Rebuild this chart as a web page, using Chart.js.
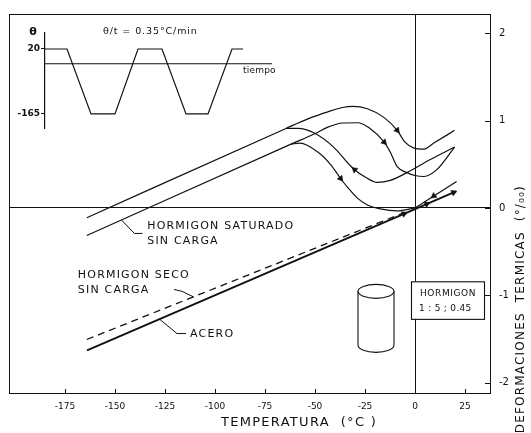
<!DOCTYPE html>
<html><head><meta charset="utf-8">
<script src="https://cdn.jsdelivr.net/npm/chart.js@4/dist/chart.umd.min.js"></script>
<style>
html,body{margin:0;padding:0;background:#fff;}
#wrap{position:relative;width:531px;height:433px;overflow:hidden;}
#main,#inset{position:absolute;left:0;top:0;}
</style></head><body>
<div id="wrap">
<canvas id="main" width="531" height="433"></canvas>
<canvas id="inset" width="300" height="140"></canvas>
</div>
<script>
// ---------- data (temperature °C, thermal strain ‰) ----------
const xTicks = [-175, -150, -125, -100, -75, -50, -25, 0, 25];
const yTicks = [-2, -1, 0, 1, 2];

// saturated concrete, outer upper loop
const satAT = [-164.1, -64.5, -53.5, -43.6, -36.2, -31.2, -23.8, -15.4, -8.9, -5.0, -0.5, 4.5, 9.4, 19.8];
const satAD = [-0.112, 0.910, 1.020, 1.100, 1.150, 1.162, 1.135, 1.034, 0.888, 0.753, 0.685, 0.674, 0.742, 0.888];
// saturated concrete, lower straight line + loop
const satBT = [-164.1, -62.0, -50.1, -43.6, -36.2, -28.8, -22.8, -15.4, -12.4, -8.9, -4.0, 0, 4.5, 10.9, 19.8];
const satBD = [-0.315, 0.730, 0.850, 0.925, 0.972, 0.975, 0.915, 0.753, 0.640, 0.472, 0.404, 0.371, 0.360, 0.438, 0.697];
// branch leaving the upper line
const satCT = [-64.5, -58.5, -50.1, -40.2, -33.7, -30.2, -25.3, -18.8, -12.4, -4.0, 7.4, 19.8];
const satCD = [0.910, 0.910, 0.854, 0.685, 0.517, 0.438, 0.360, 0.292, 0.315, 0.404, 0.551, 0.697];
// branch leaving the lower line
const satDT = [-62.0, -57.5, -48.6, -42.1, -37.2, -33.7, -28.8, -23.8, -17.4, -8.9, 0];
const satDD = [0.730, 0.742, 0.640, 0.494, 0.337, 0.236, 0.112, 0.034, -0.011, -0.034, 0];
// steel
const aceroT = [-164.0, 0, 20.5];
const aceroD = [-1.630, -0.013, 0.190];
// dry concrete (dashed) and its return branch
const secoT = [-164.1, -5.0];
const secoD = [-1.506, -0.050];
const secoUpT = [0, 20.8];
const secoUpD = [0, 0.303];
// direction arrows on the curves
const arrowT = [-8.9, -15.4, -30.2, -37.2, -5.5, 5.9, 19.3, 9.4];
const arrowD = [0.888, 0.753, 0.438, 0.337, -0.067, 0.045, 0.177, 0.137];

// inset: temperature cycle
const cycleT = [0, 22, 46, 70, 93, 117, 141, 163, 187, 198];
const cycleTheta = [20, 20, -165, -165, 20, 20, -165, -165, 20, 20];
const timeAxisT = [0, 227];
const timeAxisTheta = [-22, -22];
const insetTicks = [20, -165];

const pts = (xs, ys) => xs.map((v, i) => ({x: v, y: ys[i]}));
const FONT = '"DejaVu Sans", sans-serif';

function txt(ctx, s, px, py, size, align, spacing, weight) {
  ctx.font = (weight || 'normal') + ' ' + size + 'px ' + FONT;
  ctx.textAlign = align || 'left';
  ctx.textBaseline = 'middle';
  try { ctx.letterSpacing = (spacing || 0) + 'px'; } catch (e) {}
  ctx.fillText(s, px, py);
  try { ctx.letterSpacing = '0px'; } catch (e) {}
}

const decor = {
  id: 'decor',
  afterDraw(chart) {
    const {ctx, chartArea: a, scales: {x, y}} = chart;
    const X = v => x.getPixelForValue(v), Y = v => y.getPixelForValue(v);
    ctx.save();
    ctx.strokeStyle = '#111'; ctx.fillStyle = '#111'; ctx.lineWidth = 1;
    ctx.strokeRect(a.left + 0.5, a.top + 0.5, a.right - a.left - 1, a.bottom - a.top - 1);
    ctx.beginPath();
    x.ticks.forEach(t => { const p = Math.round(X(t.value)) + 0.5; ctx.moveTo(p, a.bottom); ctx.lineTo(p, a.bottom - 5); });
    y.ticks.forEach(t => { const p = Math.round(Y(t.value)) + 0.5; ctx.moveTo(a.right, p); ctx.lineTo(a.right - 6, p); });
    ctx.stroke();

    // leader lines
    ctx.lineWidth = 1;
    const lead = (arr) => { ctx.beginPath(); arr.forEach((q, i) => { const px = X(q[0]), py = Y(q[1]); i ? ctx.lineTo(px, py) : ctx.moveTo(px, py); }); ctx.stroke(); };
    lead([[-146.8, -0.138], [-140.3, -0.292], [-136.3, -0.292]]);
    lead([[-110.6, -1.02], [-116.5, -0.955], [-120.5, -0.933]]);
    lead([[-127.9, -1.27], [-119.0, -1.438], [-114.5, -1.438]]);

    txt(ctx, 'HORMIGON SATURADO', X(-133.9), Y(-0.213), 11, 'left', 1.2);
    txt(ctx, 'SIN CARGA', X(-133.9), Y(-0.382), 11, 'left', 1.2);
    txt(ctx, 'HORMIGON SECO', X(-168.6), Y(-0.775), 11, 'left', 1.2);
    txt(ctx, 'SIN CARGA', X(-168.6), Y(-0.944), 11, 'left', 1.2);
    txt(ctx, 'ACERO', X(-112.5), Y(-1.45), 11, 'left', 1.2);

    // cylinder
    const cx = X(-19.5), ct = Y(-0.955), cb = Y(-1.573), rx = 18, ry = 7;
    ctx.lineWidth = 1.1;
    ctx.beginPath(); ctx.ellipse(cx, ct, rx, ry, 0, 0, 2 * Math.PI); ctx.stroke();
    ctx.beginPath(); ctx.moveTo(cx - rx, ct); ctx.lineTo(cx - rx, cb);
    ctx.ellipse(cx, cb, rx, ry, 0, Math.PI, 0, true); ctx.lineTo(cx + rx, ct); ctx.stroke();

    // box
    const bl = X(-2), br = X(34.5), bt = Y(-0.84), bb = Y(-1.27);
    ctx.fillStyle = '#fff'; ctx.fillRect(bl, bt, br - bl, bb - bt);
    ctx.strokeRect(bl + 0.5, bt + 0.5, br - bl, bb - bt);
    ctx.fillStyle = '#111';
    txt(ctx, 'HORMIGON', X(2.5), Y(-0.98), 9, 'left', 0.6);
    txt(ctx, '1 : 5 ; 0.45', X(2.0), Y(-1.15), 9, 'left', 0.3);

    // axis titles
    txt(ctx, 'TEMPERATURA  (°C )', X(-58), 423, 13, 'center', 1.3);
    ctx.save();
    ctx.translate(521, 185); ctx.rotate(-Math.PI / 2);
    txt(ctx, 'DEFORMACIONES  TERMICAS  (°/₀₀)', 0, 0, 12, 'right', 1.2);
    ctx.restore();
    ctx.restore();
  }
};

const lineDs = (xs, ys, extra) => Object.assign({
  data: pts(xs, ys), showLine: true, borderColor: '#111', borderWidth: 1.2,
  pointRadius: 0, cubicInterpolationMode: 'monotone', fill: false
}, extra || {});

new Chart(document.getElementById('main'), {
  type: 'scatter',
  data: {datasets: [
    lineDs(satAT, satAD),
    lineDs(satBT, satBD),
    lineDs(satCT, satCD),
    lineDs(satDT, satDD),
    lineDs(aceroT, aceroD, {borderWidth: 1.9, cubicInterpolationMode: 'default', tension: 0}),
    lineDs(secoT, secoD, {borderWidth: 1.3, borderDash: [7, 5], tension: 0}),
    lineDs(secoUpT, secoUpD, {borderWidth: 1.2, tension: 0}),
    {data: pts(arrowT, arrowD), showLine: false, pointStyle: 'triangle', pointRadius: 3.5,
     pointBackgroundColor: '#111', pointBorderColor: '#111', pointBorderWidth: 0.5,
     pointRotation: [141.7, 137.6, -50.5, 143.5, 66.5, 66.5, 66.5, -126.9]}
  ]},
  options: {
    responsive: false, devicePixelRatio: 1, animation: false,
    layout: {padding: {left: 9, top: 6, right: 0, bottom: 0}},
    plugins: {legend: {display: false}, tooltip: {enabled: false}},
    scales: {
      x: {type: 'linear', position: 'bottom', min: -203, max: 38,
        afterBuildTicks: s => { s.ticks = xTicks.map(v => ({value: v})); },
        afterFit: s => { s.height = 39; },
        grid: {drawTicks: false, lineWidth: 1, color: c => (c.tick && c.tick.value === 0) ? '#111' : 'rgba(0,0,0,0)'},
        border: {display: false},
        ticks: {autoSkip: false, maxRotation: 0, padding: 7, color: '#111', font: {size: 9, family: FONT}, callback: v => String(v)}
      },
      y: {type: 'linear', position: 'right', min: -2.13, max: 2.22,
        afterBuildTicks: s => { s.ticks = yTicks.map(v => ({value: v})); },
        afterFit: s => { s.width = 40; },
        grid: {drawTicks: false, lineWidth: 1, color: c => (c.tick && c.tick.value === 0) ? '#111' : 'rgba(0,0,0,0)'},
        border: {display: false},
        ticks: {padding: 8, color: '#111', font: {size: 10, family: FONT}, callback: v => String(v)}
      }
    }
  },
  plugins: [decor]
});

const insetDecor = {
  id: 'insetDecor',
  afterDraw(chart) {
    const {ctx, chartArea: a, scales: {x, y}} = chart;
    ctx.save(); ctx.fillStyle = '#111';
    txt(ctx, 'θ', a.left - 12, a.top - 1, 11, 'center', 0, 'bold');
    txt(ctx, 'θ/t = 0.35°C/min', x.getPixelForValue(58), a.top - 1, 9.5, 'left', 0.9);
    txt(ctx, 'tiempo', x.getPixelForValue(198), y.getPixelForValue(-22) + 7, 9, 'left', 0.2);
    ctx.restore();
  }
};

new Chart(document.getElementById('inset'), {
  type: 'scatter',
  data: {datasets: [
    {data: pts(cycleT, cycleTheta), showLine: true, borderColor: '#111', borderWidth: 1.2, pointRadius: 0, tension: 0},
    {data: pts(timeAxisT, timeAxisTheta), showLine: true, borderColor: '#111', borderWidth: 1.1, pointRadius: 0, tension: 0}
  ]},
  options: {
    responsive: false, devicePixelRatio: 1, animation: false,
    layout: {padding: {left: 0, top: 33, right: 25, bottom: 12}},
    plugins: {legend: {display: false}, tooltip: {enabled: false}},
    scales: {
      x: {type: 'linear', min: 0, max: 230, display: false},
      y: {type: 'linear', position: 'left', min: -205, max: 65.5,
        afterBuildTicks: s => { s.ticks = insetTicks.map(v => ({value: v})); },
        afterFit: s => { s.width = 45; },
        grid: {drawOnChartArea: false, drawTicks: true, tickLength: 4, color: '#111'},
        border: {display: true, color: '#111', width: 1.2},
        ticks: {color: '#111', padding: 1, font: {size: 9, family: FONT, weight: 'bold'}, callback: v => String(v)}
      }
    }
  },
  plugins: [insetDecor]
});
</script>
</body></html>
